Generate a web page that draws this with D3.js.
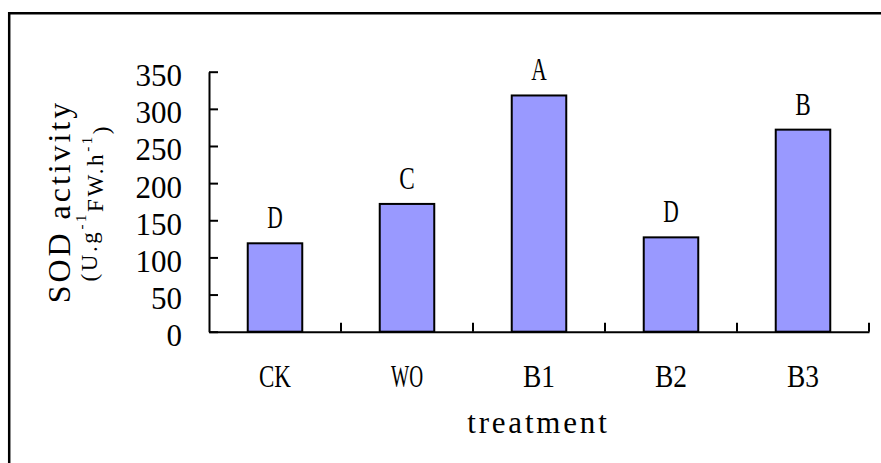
<!DOCTYPE html>
<html><head><meta charset="utf-8">
<script src="https://cdn.jsdelivr.net/npm/d3@7/dist/d3.min.js"></script>
<style>
html,body{margin:0;padding:0;background:#fff;}
svg{display:block;}
text{font-family:"Liberation Serif","DejaVu Serif",serif;fill:#000;}
</style></head>
<body>
<svg id="chart" width="881" height="463"></svg>
<script>
// ---- data ----
const categories = ["CK", "WO", "B1", "B2", "B3"];
const sodValues = [119, 172, 318, 127, 272];
const letters = ["D", "C", "A", "D", "B"];
const yTicks = [0, 50, 100, 150, 200, 250, 300, 350];
const yTitle = "SOD activity";
const xTitle = "treatment";

// ---- layout ----
const W = 881, H = 463;
const plotL = 209, plotR = 869, plotT = 71.7, plotB = 331.7;
const ADV = 15.5; // half-width advance per character (condensed look)

const svg = d3.select("#chart");

function fit(sel, adv, mode) {
  sel.each(function () {
    const t = d3.select(this);
    const n = t.text().length;
    t.attr("textLength", n * adv).attr("lengthAdjust", mode || "spacingAndGlyphs");
  });
}

// outer frame
svg.append("path")
  .attr("d", `M9.2,${H} V13.2 H${W}`)
  .attr("fill", "none").attr("stroke", "#000").attr("stroke-width", 2.5);

const x = d3.scaleBand().domain(categories).range([plotL, plotR]).padding(0);
const y = d3.scaleLinear().domain([0, 350]).range([plotB, plotT]);

const barW = x.bandwidth() * 0.413;

// bars
svg.append("g").selectAll("rect").data(categories).join("rect")
  .attr("x", (d) => x(d) + (x.bandwidth() - barW) / 2)
  .attr("y", (d, i) => y(sodValues[i]))
  .attr("width", barW)
  .attr("height", (d, i) => y(0) - y(sodValues[i]))
  .attr("fill", "#9999ff")
  .attr("stroke", "#000").attr("stroke-width", 2);

// significance letters
svg.append("g").selectAll("text").data(categories).join("text")
  .attr("x", (d) => x(d) + x.bandwidth() / 2)
  .attr("y", (d, i) => y(sodValues[i]) - 15)
  .attr("text-anchor", "middle")
  .style("font-size", "31px")
  .text((d, i) => letters[i])
  .call(fit, ADV);

// y axis
const yAxis = svg.append("g").attr("transform", `translate(${plotL},0)`)
  .call(d3.axisLeft(y).tickValues(yTicks).tickSize(-9).tickSizeOuter(0).tickPadding(27));
yAxis.attr("font-family", null).attr("font-size", null);
yAxis.select(".domain").attr("stroke", "#000").attr("stroke-width", 2);
yAxis.selectAll(".tick line").attr("stroke", "#000").attr("stroke-width", 2);
yAxis.selectAll(".tick text")
  .attr("dy", null).attr("y", 14)
  .attr("fill", "#000")
  .style("font-size", "31px")
  .call(fit, ADV);

// x axis
const xAxis = svg.append("g").attr("transform", `translate(0,${plotB})`)
  .call(d3.axisBottom(x).tickSize(0).tickSizeOuter(0).tickPadding(0));
xAxis.attr("font-family", null).attr("font-size", null);
xAxis.select(".domain").attr("stroke", "#000").attr("stroke-width", 2);
xAxis.selectAll(".tick text")
  .attr("dy", null).attr("y", 55.3)
  .attr("fill", "#000")
  .style("font-size", "32px")
  .call(fit, 16);
// boundary ticks (pointing up)
svg.append("g").selectAll("line").data(categories).join("line")
  .attr("x1", (d) => x(d) + x.bandwidth()).attr("x2", (d) => x(d) + x.bandwidth())
  .attr("y1", plotB).attr("y2", plotB - 9)
  .attr("stroke", "#000").attr("stroke-width", 2);

// x title
svg.append("text")
  .attr("x", 537).attr("y", 433)
  .attr("text-anchor", "middle").style("font-size", "31px")
  .text(xTitle)
  .call(fit, ADV, "spacing");

// y title line 1
svg.append("text")
  .attr("transform", `translate(70,203) rotate(-90)`)
  .attr("text-anchor", "middle").style("font-size", "32px")
  .text(yTitle)
  .call(fit, 16.7, "spacing");

// y title line 2 (units)
const u = svg.append("text")
  .attr("transform", `translate(97,204) rotate(-90)`)
  .attr("text-anchor", "middle").style("font-size", "23px")
  .attr("textLength", 155).attr("lengthAdjust", "spacing");
u.append("tspan").text("(U.g");
u.append("tspan").attr("dy", "-0.75em").style("font-size", "15px").text("-1");
u.append("tspan").attr("dy", "0.75em").text("FW.h");
u.append("tspan").attr("dy", "-0.75em").style("font-size", "15px").text("-1");
u.append("tspan").attr("dy", "0.75em").text(")");
</script>
</body></html>
